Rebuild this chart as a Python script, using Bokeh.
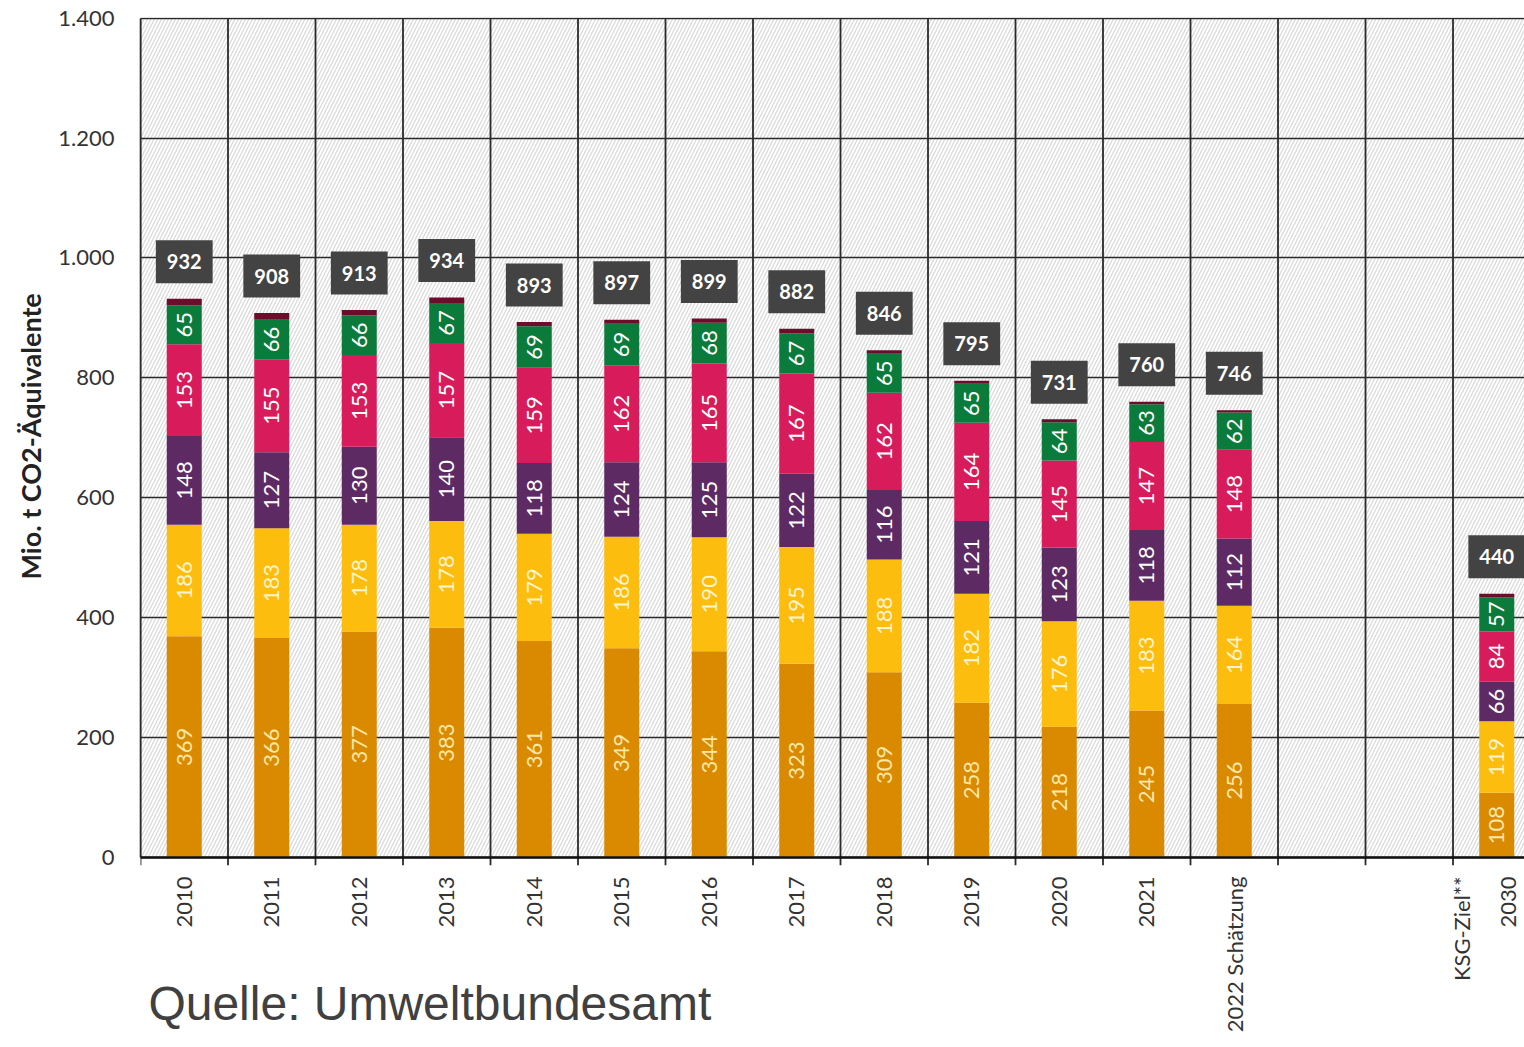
import math
from bokeh.plotting import figure
from bokeh.models import FixedTicker, BoxAnnotation, Label, Range1d, ColumnDataSource, Span, Title
from bokeh.core.properties import value
from bokeh.embed import file_html
from bokeh.resources import INLINE

# ---------------- data ----------------
slots = ["2010", "2011", "2012", "2013", "2014", "2015", "2016", "2017", "2018",
         "2019", "2020", "2021", "2022 Schätzung", "", "", "KSG-Ziel**\n2030"]
bar_cats = ["2010", "2011", "2012", "2013", "2014", "2015", "2016", "2017", "2018",
            "2019", "2020", "2021", "2022 Schätzung", "KSG-Ziel**\n2030"]
energie = [369, 366, 377, 383, 361, 349, 344, 323, 309, 258, 218, 245, 256, 108]
industrie = [186, 183, 178, 178, 179, 186, 190, 195, 188, 182, 176, 183, 164, 119]
gebaeude = [148, 127, 130, 140, 118, 124, 125, 122, 116, 121, 123, 118, 112, 66]
verkehr = [153, 155, 153, 157, 159, 162, 165, 167, 162, 164, 145, 147, 148, 84]
landwirtschaft = [65, 66, 66, 67, 69, 69, 68, 67, 65, 65, 64, 63, 62, 57]
sonstige = [11, 11, 9, 9, 7, 7, 7, 8, 6, 5, 5, 4, 4, 6]
totals = [932, 908, 913, 934, 893, 897, 899, 882, 846, 795, 731, 760, 746, 440]
y_ticks = [0, 200, 400, 600, 800, 1000, 1200, 1400]
y_tick_labels = ["0", "200", "400", "600", "800", "1.000", "1.200", "1.400"]
y_title = "Mio. t CO2-Äquivalente"
source_note = "Quelle: Umweltbundesamt"

series = [energie, industrie, gebaeude, verkehr, landwirtschaft, sonstige]
colors = ["#D98A00", "#FDBD0F", "#5E2A63", "#D81B5B", "#0B7B3B", "#6A0E2C"]
label_colors = ["#FCE7A6", "#FFF4CC", "white", "white", "white", None]

FONT = "Lato"
Y_MAX = y_ticks[-1]
TICK_LEN = 13  # tick length below the zero line, in value units (~8 px)

# ---------------- figure ----------------
n_slots = len(slots)
boundaries = list(range(0, n_slots + 1))
centers = [slots.index(c) + 0.5 for c in bar_cats]
all_centers = [i + 0.5 for i in range(n_slots)]

p = figure(width=1524, height=1047, output_backend="svg", toolbar_location=None,
           x_range=Range1d(0, 15.817), y_range=Range1d(-317, Y_MAX + 1),
           min_border_left=140, min_border_right=0, min_border_top=17, min_border_bottom=0)
p.outline_line_color = None
p.background_fill_color = "white"
p.border_fill_color = "white"
p.xaxis.visible = False
p.xgrid.visible = False

# hatched background (above the zero line only)
bg = BoxAnnotation(bottom=0, fill_alpha=0, line_color=None, hatch_pattern="/",
                   hatch_color="#D8D8D8", hatch_scale=7, hatch_weight=1.2, level="image")
p.add_layout(bg)

# horizontal grid
p.ygrid.ticker = FixedTicker(ticks=y_ticks)
p.ygrid.grid_line_color = "#2A2A2A"
p.ygrid.grid_line_width = 1.6

# vertical category separators, reaching slightly below zero as tick marks
p.segment(x0=boundaries, x1=boundaries, y0=[-TICK_LEN] * len(boundaries),
          y1=[Y_MAX] * len(boundaries), line_color="#2A2A2A", line_width=1.8,
          level="underlay")

# x axis baseline
p.add_layout(Span(location=0, dimension="width", line_color="#111111", line_width=2.5))

# stacked bars
bottom = [0] * len(bar_cats)
for vals, col, lcol in zip(series, colors, label_colors):
    top = [b + v for b, v in zip(bottom, vals)]
    src = ColumnDataSource(dict(x=centers, bottom=bottom, top=top,
                                mid=[(b + t) / 2 for b, t in zip(bottom, top)],
                                txt=[str(v) for v in vals]))
    p.vbar(x="x", bottom="bottom", top="top", width=0.4, source=src,
           fill_color=col, line_color=None)
    if lcol is not None:
        p.text(x="x", y="mid", text="txt", source=src, angle=math.pi / 2,
               text_align="center", text_baseline="middle", text_color=lcol,
               text_font=value(FONT), text_font_size="22px")
    bottom = top

# total boxes
tsrc = ColumnDataSource(dict(x=centers, y=totals, txt=[str(t) for t in totals]))
p.text(x="x", y="y", text="txt", source=tsrc, y_offset=-37,
       text_align="center", text_baseline="middle", text_color="white",
       text_font=value(FONT), text_font_style="bold", text_font_size="20px",
       background_fill_color="#434343",
       padding=dict(left=11, right=11, top=14, bottom=14))

# category labels (rotated, below the zero line)
single = [(c, s) for c, s in zip(all_centers, slots) if "\n" not in s]
multi = [(c, s) for c, s in zip(all_centers, slots) if "\n" in s]
csrc = ColumnDataSource(dict(x=[c for c, _ in single], y=[0] * len(single),
                             txt=[s for _, s in single]))
p.text(x="x", y="y", text="txt", source=csrc, angle=math.pi / 2, y_offset=19,
       text_align="right", text_baseline="middle", text_color="#333333",
       text_font=value(FONT), text_font_size="22px")
msrc = ColumnDataSource(dict(x=[c for c, _ in multi], y=[0] * len(multi),
                             txt=[s for _, s in multi]))
p.text(x="x", y="y", text="txt", source=msrc, angle=math.pi / 2, y_offset=19, x_offset=-12,
       text_align="right", text_baseline="middle", text_color="#333333",
       text_font=value(FONT), text_font_size="22px", text_line_height=1.7)

# y axis
ya = p.yaxis[0]
ya.ticker = FixedTicker(ticks=y_ticks)
ya.bounds = (0, Y_MAX)
ya.major_label_overrides = {t: s for t, s in zip(y_ticks, y_tick_labels)}
ya.major_tick_out = 0
ya.major_tick_in = 0
ya.minor_tick_out = 0
ya.minor_tick_in = 0
ya.axis_line_color = "#2A2A2A"
ya.axis_line_width = 1.6
ya.major_label_standoff = 26
ya.major_label_text_font = FONT
ya.major_label_text_font_size = "22px"
ya.major_label_text_color = "#333333"

# y title, placed along the 0..1400 part of the frame
p.add_layout(Title(text=y_title, align="left", offset=468, standoff=18,
                   text_font=FONT, text_font_style="bold", text_font_size="27px",
                   text_color="#222222"), "left")

# source note
p.add_layout(Label(x=0.09, y=-244, text=source_note, text_font="Liberation Sans",
                   text_font_size="48px", text_color="#404040", text_baseline="middle"))

open("out.html", "w").write(file_html(p, INLINE))
